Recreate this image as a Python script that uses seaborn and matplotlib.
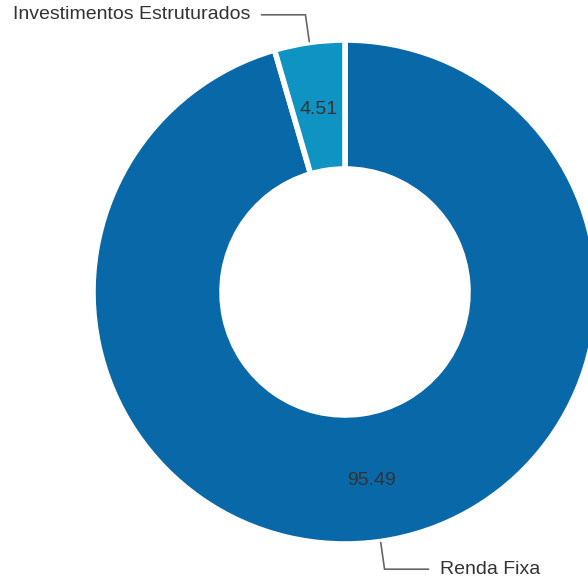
import matplotlib.pyplot as plt
import numpy as np
import seaborn as sns

categories = ['Renda Fixa', 'Investimentos Estruturados']
values = [95.49, 4.51]
colors = ['#0868a8', '#0f93c3']

sns.set_theme(style='white')
plt.rcParams['font.family'] = ['Liberation Sans', 'DejaVu Sans']

W, H = 588, 583
fig = plt.figure(figsize=(W / 100, H / 100), dpi=100)
ax = fig.add_axes([0, 0, 1, 1])

cx, cy = 345, H - 292
r_out, r_in = 252, 123

wedges, _ = ax.pie(values, colors=colors, startangle=90, counterclock=False,
                   center=(cx, cy), radius=r_out,
                   wedgeprops=dict(width=r_out - r_in, edgecolor='white', linewidth=4))
ax.set_xlim(0, W)
ax.set_ylim(0, H)
ax.set_aspect('equal')
ax.axis('off')

r_mid = (r_out + r_in) / 2
for w, v, name in zip(wedges, values, categories):
    ang = np.deg2rad((w.theta1 + w.theta2) / 2)
    ca, sa = np.cos(ang), np.sin(ang)
    ax.text(cx + r_mid * ca, cy + r_mid * sa - 3, f'{v:.2f}', ha='center', va='center',
            fontsize=14, color='#333333')
    # leader line: radial then horizontal
    p0 = (cx + (r_out + 1) * ca, cy + (r_out + 1) * sa)
    p1 = (cx + (r_out + 28) * ca, cy + (r_out + 28) * sa)
    side = 1 if ca >= 0 else -1
    p2 = (p1[0] + side * 44, p1[1])
    ax.plot([p0[0], p1[0], p2[0]], [p0[1], p1[1], p2[1]], color='#666666', lw=1.2,
            solid_joinstyle='miter')
    ax.text(p2[0] + side * 11, p2[1], name, ha='left' if side > 0 else 'right',
            va='center', fontsize=14, color='#333333')

fig.savefig('out.png', dpi=100)
